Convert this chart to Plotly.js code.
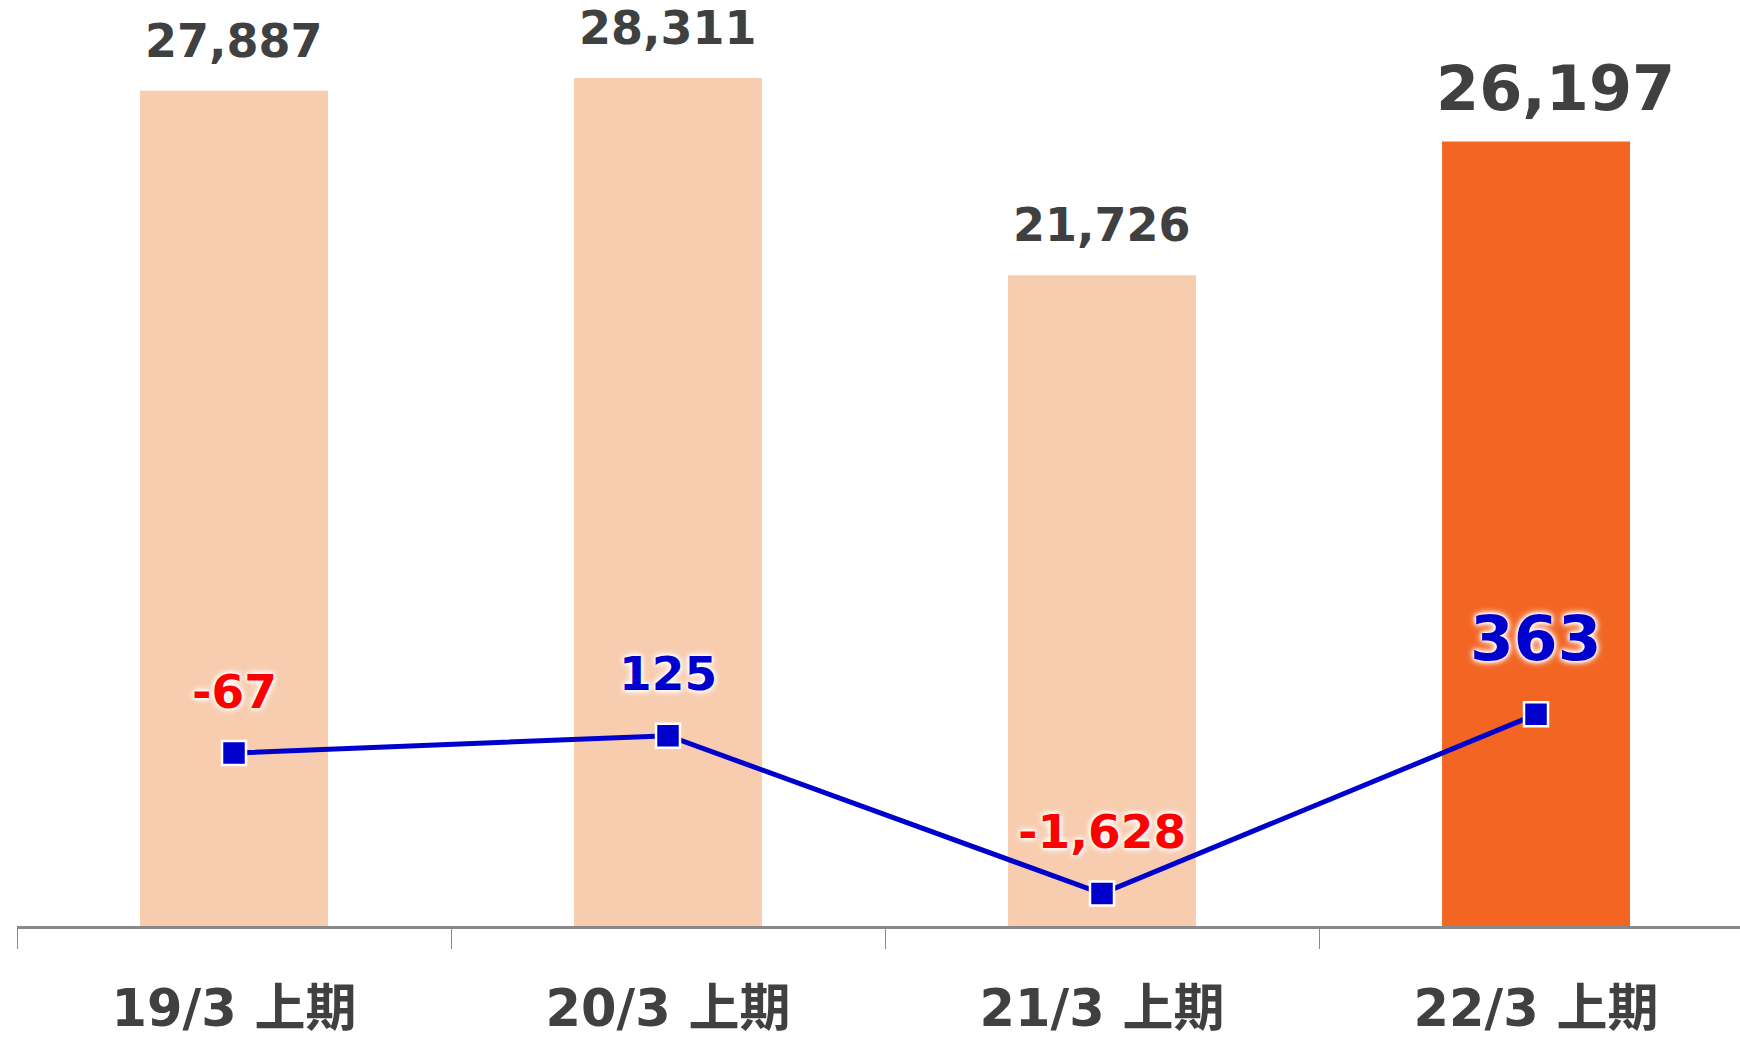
<!DOCTYPE html>
<html>
<head>
<meta charset="utf-8">
<script src="https://cdn.plot.ly/plotly-3.0.1.min.js"></script>
<style>html,body{margin:0;padding:0;background:#fff;}#chart{width:1740px;height:1041px;}</style>
</head>
<body>
<div id="chart"></div>
<script>
const categories = ["19/3 上期", "20/3 上期", "21/3 上期", "22/3 上期"];
const barValues = [27887, 28311, 21726, 26197];
const lineValues = [-67, 125, -1628, 363];
const barColors = ["#F8CCAE", "#F8CCAE", "#F8CCAE", "#F26522"];
const highlight = [false, false, false, true];

const FONT = "'DejaVu Sans', 'Noto Sans CJK JP', sans-serif";
const fmt = v => v.toLocaleString('en-US');

const bars = {
  type: 'bar', x: categories, y: barValues, width: 0.433,
  marker: {color: barColors}, hoverinfo: 'skip', yaxis: 'y'
};
const line = {
  type: 'scatter', mode: 'lines+markers', x: categories, y: lineValues, yaxis: 'y2',
  line: {color: '#0000CC', width: 5},
  marker: {symbol: 'square', size: 24, color: '#0000CC', line: {color: '#FFFFFF', width: 2.5}},
  hoverinfo: 'skip', cliponaxis: false
};

const annotations = [];
categories.forEach((c, i) => {
  const big = highlight[i];
  annotations.push({
    x: c, y: barValues[i], xref: 'x', yref: 'y', text: fmt(barValues[i]), showarrow: false,
    yanchor: 'middle', yshift: big ? 53 : 50, xshift: big ? 19 : 0,
    font: {family: FONT, size: big ? 62 : 46, color: '#404040', weight: 'bold'}
  });
  annotations.push({
    x: c, y: lineValues[i], xref: 'x', yref: 'y2', text: fmt(lineValues[i]), showarrow: false,
    yanchor: 'middle', yshift: big ? 76 : 62,
    font: {family: FONT, size: big ? 63 : 47, color: lineValues[i] < 0 ? '#FF0000' : '#0000CC', weight: 'bold',
           shadow: '0 0 3px #fff, 0 0 4px #fff, 0 0 6px #fff, 0 0 8px #fff'}
  });
});

const layout = {
  width: 1740, height: 1041,
  margin: {l: 17, r: 0, t: 0, b: 115, pad: 0},
  paper_bgcolor: '#FFFFFF', plot_bgcolor: '#FFFFFF',
  showlegend: false,
  font: {family: FONT, color: '#404040'},
  xaxis: {
    type: 'category', range: [-0.5, 3.47], fixedrange: true,
    showline: true, linecolor: '#898989', linewidth: 2.5,
    ticks: 'outside', tickson: 'boundaries', ticklen: 20, tickwidth: 1, tickcolor: '#898989',
    tickfont: {family: FONT, size: 51, color: '#404040', weight: 'bold'},
    ticklabelstandoff: 36,
    showgrid: false, zeroline: false
  },
  yaxis: {range: [0, 30918], visible: false, showgrid: false, zeroline: false, fixedrange: true},
  yaxis2: {range: [-1989, 8300], overlaying: 'y', visible: false, showgrid: false, zeroline: false, fixedrange: true},
  annotations: annotations,
  bargap: 0.5
};

Plotly.newPlot('chart', [bars, line], layout, {displayModeBar: false, staticPlot: true});
</script>
</body>
</html>
